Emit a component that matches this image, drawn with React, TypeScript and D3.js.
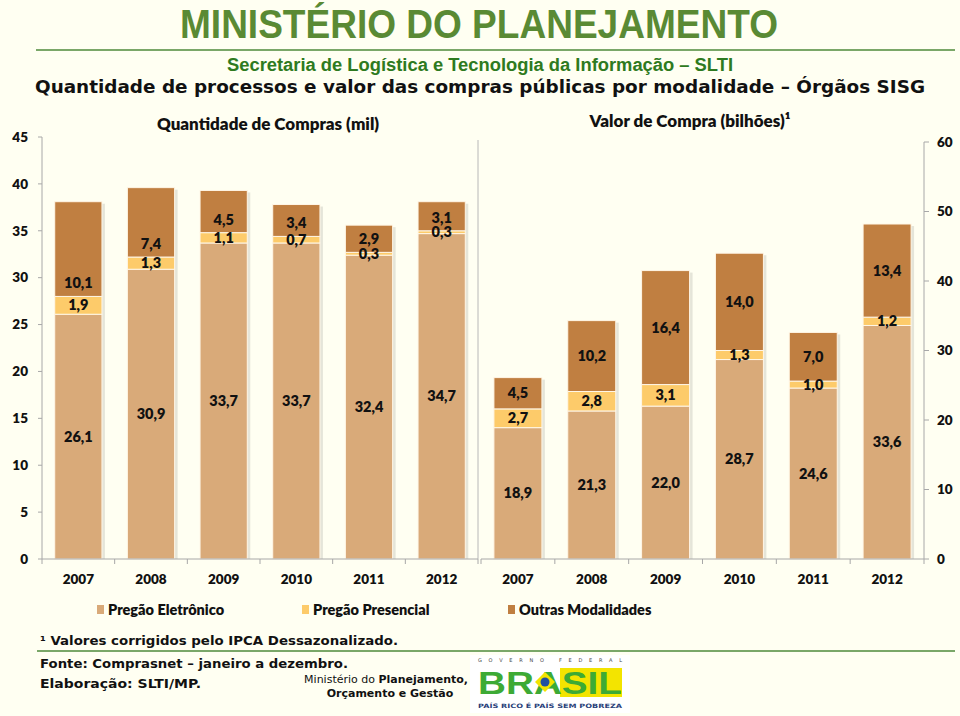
import React from "react";
import * as d3 from "d3";

const years = ["2007", "2008", "2009", "2010", "2011", "2012"];
const series = ["Pregão Eletrônico", "Pregão Presencial", "Outras Modalidades"];
const colors = ["#D9AA79", "#FDCB6A", "#C07F41"];

const qtdPE = [26.1, 30.9, 33.7, 33.7, 32.4, 34.7];
const qtdPP = [1.9, 1.3, 1.1, 0.7, 0.3, 0.3];
const qtdOM = [10.1, 7.4, 4.5, 3.4, 2.9, 3.1];

const valPE = [18.9, 21.3, 22.0, 28.7, 24.6, 33.6];
const valPP = [2.7, 2.8, 3.1, 1.3, 1.0, 1.2];
const valOM = [4.5, 10.2, 16.4, 14.0, 7.0, 13.4];

const leftTicks = [0, 5, 10, 15, 20, 25, 30, 35, 40, 45];
const rightTicks = [0, 10, 20, 30, 40, 50, 60];

const fmt = (v: number) => v.toFixed(1).replace(".", ",");
const chartFont = "Lato, 'Open Sans', sans-serif";
const verd = "'DejaVu Sans', Verdana, sans-serif";

type PanelProps = {
  pe: number[]; pp: number[]; om: number[];
  x0: number; x1: number; yMax: number; yTop: number;
  omInsideBase: boolean;
};

function Panel({ pe, pp, om, x0, x1, yMax, yTop, omInsideBase }: PanelProps) {
  const x = d3.scaleBand<string>().domain(years).range([x0, x1]).paddingInner(0.35).paddingOuter(0.175);
  const y = d3.scaleLinear().domain([0, yMax]).range([559, yTop]);
  const rows = years.map((yr, i) => ({ yr, PE: pe[i], PP: pp[i], OM: om[i] }));
  const stack = d3.stack<any>().keys(["PE", "PP", "OM"])(rows);
  const bw = x.bandwidth();
  return (
    <g>
      {rows.map((r, i) => {
        const top = stack[2][i][1];
        return (
          <rect key={"s" + i} x={(x(r.yr) as number) + 3} y={y(top) + 2} width={bw} height={559 - y(top) - 2} fill="#000" opacity={0.1} />
        );
      })}
      {stack.map((s, si) => (
        <g key={si}>
          {s.map((d, i) => (
            <rect key={i} x={x(years[i]) as number} y={y(d[1])} width={bw} height={y(d[0]) - y(d[1])}
              fill={colors[si]} stroke="#FFF6E6" strokeWidth={1} />
          ))}
        </g>
      ))}
      {stack.map((s, si) => (
        <g key={"l" + si}>
          {s.map((d, i) => {
            const v = (rows[i] as any)[["PE", "PP", "OM"][si]];
            const cy = si === 2 && omInsideBase ? y(d[0]) - 13 : (y(d[0]) + y(d[1])) / 2;
            return (
              <text key={i} x={(x(years[i]) as number) + bw / 2} y={cy} dy="0.35em" textAnchor="middle"
                fontFamily={chartFont} fontWeight={800} fontSize={14.5} fill="#111">{fmt(v)}</text>
            );
          })}
        </g>
      ))}
      <line x1={x0} x2={x1} y1={559} y2={559} stroke="#A8A8A8" strokeWidth={1} />
      {d3.range(years.length + 1).map((k) => {
        const xx = x0 + (k * (x1 - x0)) / years.length;
        return <line key={"t" + k} x1={xx} x2={xx} y1={559} y2={564} stroke="#A8A8A8" />;
      })}
      {years.map((yr) => (
        <text key={yr} x={(x(yr) as number) + bw / 2} y={584} textAnchor="middle" fontFamily={chartFont}
          fontWeight={800} fontSize={13.5} fill="#111">{yr}</text>
      ))}
    </g>
  );
}

export default function App() {
  const yL = d3.scaleLinear().domain([0, 45]).range([559, 137]);
  const yR = d3.scaleLinear().domain([0, 60]).range([559, 142]);
  return (
    <svg width={960} height={716} style={{ position: "absolute", left: 0, top: 0 }}>
      <rect width={960} height={716} fill="#FFFFF2" />
      <text x={479} y={38} textAnchor="middle" fontFamily="'Liberation Sans Narrow', 'Liberation Sans', Arial, sans-serif"
        fontWeight={700} fontSize={41} fill="#5A8A34" textLength={598} lengthAdjust="spacingAndGlyphs">MINISTÉRIO DO PLANEJAMENTO</text>
      <line x1={36} x2={955} y1={50} y2={50} stroke="#4E8A3A" strokeWidth={1.5} />
      <text x={480} y={71} textAnchor="middle" fontFamily="'Liberation Sans Narrow', 'Liberation Sans', Arial, sans-serif"
        fontWeight={700} fontSize={18} fill="#2E7A20" textLength={506} lengthAdjust="spacingAndGlyphs">Secretaria de Logística e Tecnologia da Informação – SLTI</text>
      <text x={35} y={93} fontFamily={verd} fontWeight={700} fontSize={17.5} fill="#111" textLength={890} lengthAdjust="spacingAndGlyphs">Quantidade de processos e valor das compras públicas por modalidade – Órgãos SISG</text>

      <text x={268} y={130} textAnchor="middle" fontFamily={chartFont} fontWeight={800} fontSize={17} fill="#111">Quantidade de Compras (mil)</text>
      <text x={690} y={127} textAnchor="middle" fontFamily={chartFont} fontWeight={800} fontSize={17} fill="#111">Valor de Compra (bilhões)¹</text>

      <line x1={42} x2={42} y1={137} y2={559} stroke="#A8A8A8" />
      {leftTicks.map((t) => (
        <g key={"lt" + t}>
          <line x1={38} x2={42} y1={yL(t)} y2={yL(t)} stroke="#A8A8A8" />
          <text x={28} y={yL(t)} dy="0.35em" textAnchor="end" fontFamily={chartFont} fontWeight={800} fontSize={13.5} fill="#111">{t}</text>
        </g>
      ))}
      <line x1={478} x2={478} y1={140} y2={559} stroke="#B8B8B8" />
      <line x1={924} x2={924} y1={142} y2={559} stroke="#A8A8A8" />
      {rightTicks.map((t) => (
        <g key={"rt" + t}>
          <line x1={924} x2={929} y1={yR(t)} y2={yR(t)} stroke="#A8A8A8" />
          <text x={937} y={yR(t)} dy="0.35em" textAnchor="start" fontFamily={chartFont} fontWeight={800} fontSize={13.5} fill="#111">{t}</text>
        </g>
      ))}

      <Panel pe={qtdPE} pp={qtdPP} om={qtdOM} x0={42} x1={478} yMax={45} yTop={137} omInsideBase={true} />
      <Panel pe={valPE} pp={valPP} om={valOM} x0={481} x1={924} yMax={60} yTop={142} omInsideBase={false} />

      {series.map((s, i) => {
        const lx = [97, 302, 508][i];
        return (
          <g key={s}>
            <rect x={lx} y={605} width={7} height={9} fill={colors[i]} />
            <text x={lx + 11} y={615} fontFamily={chartFont} fontWeight={800} fontSize={14.5} fill="#111">{s}</text>
          </g>
        );
      })}

      <text x={40} y={645} fontFamily={verd} fontWeight={700} fontSize={12.5} fill="#111" textLength={358} lengthAdjust="spacingAndGlyphs">¹ Valores corrigidos pelo IPCA Dessazonalizado.</text>
      <line x1={37} x2={955} y1={651} y2={651} stroke="#4E8A3A" strokeWidth={1.5} />
      <text x={40} y={668} fontFamily={verd} fontWeight={700} fontSize={12.5} fill="#111" textLength={308} lengthAdjust="spacingAndGlyphs">Fonte: Comprasnet – janeiro a dezembro.</text>
      <text x={40} y={688} fontFamily={verd} fontWeight={700} fontSize={12.5} fill="#111" textLength={161} lengthAdjust="spacingAndGlyphs">Elaboração: SLTI/MP.</text>
      <text x={468} y={683} textAnchor="end" fontFamily={verd} fontSize={11} fill="#111">
        Ministério do <tspan fontWeight={700}>Planejamento,</tspan>
      </text>
      <text x={390} y={697} textAnchor="middle" fontFamily={verd} fontWeight={700} fontSize={11} fill="#111">Orçamento e Gestão</text>

      <rect x={470} y={655} width={160} height={58} fill="#FFFFFF" />
      <text x={478} y={662} fontFamily={verd} fontSize={5} fill="#444" textLength={144} lengthAdjust="spacing">GOVERNO   FEDERAL</text>
      <rect x={560} y={668} width={62} height={29} fill="#F3E400" />
      <text x={478} y={694} fontFamily="'Liberation Sans', Arial, sans-serif" fontWeight={900} fontSize={32} fill="#3DAA35"
        textLength={144} lengthAdjust="spacingAndGlyphs">BRASIL</text>
      <polygon points="545,672 555,682 545,692 535,682" fill="#F3E400" />
      <circle cx={545} cy={682} r={4.5} fill="#1F4FA0" />
      <text x={478} y={708} fontFamily={verd} fontWeight={700} fontSize={6} fill="#2A3F7A" textLength={144} lengthAdjust="spacingAndGlyphs">PAÍS RICO É PAÍS SEM POBREZA</text>
    </svg>
  );
}
